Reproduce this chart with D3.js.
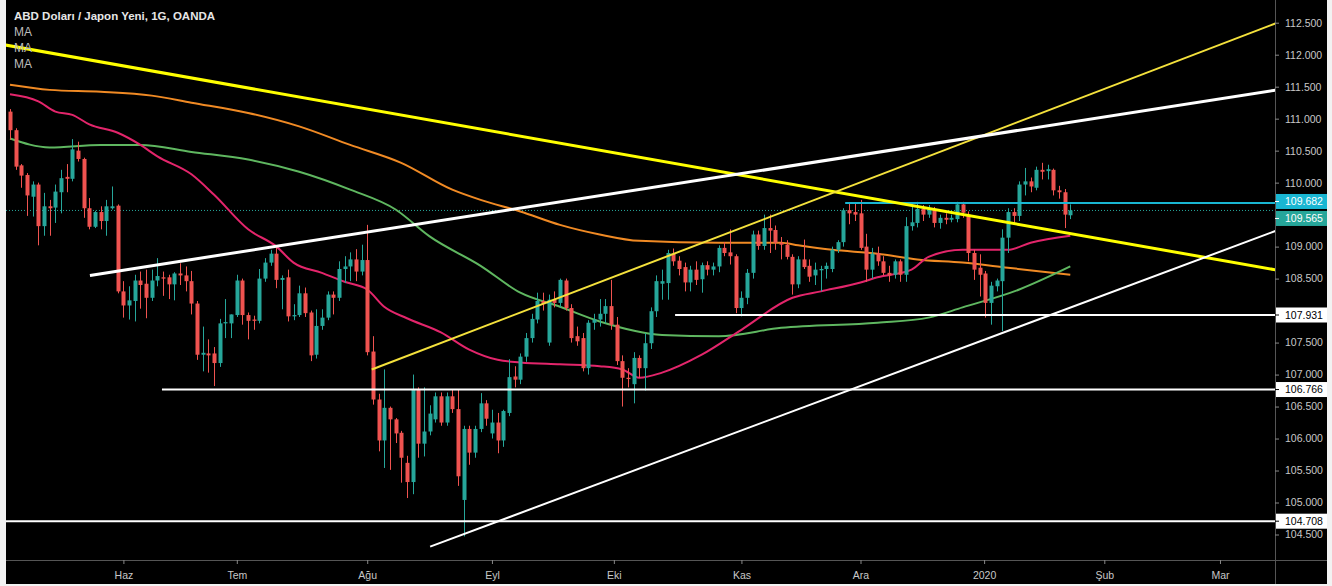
<!DOCTYPE html>
<html><head><meta charset="utf-8">
<script src="https://cdn.jsdelivr.net/npm/d3@7"></script>
<style>
html,body{margin:0;padding:0;background:#f2f2f2;overflow:hidden;}
svg{display:block;}
text{font-family:"Liberation Sans",Arial,sans-serif;}
</style></head><body>
<svg id="c" width="1332" height="586"></svg>
<script>
// ---- DATA (daily bars, index 0 = first bar) ----
const opens=[111.11,110.82,110.27,110.12,109.78,109.97,109.32,109.63,109.61,109.85,110.09,110.06,110.50,110.37,109.60,109.31,109.54,109.40,109.60,109.64,
108.30,108.08,108.15,108.47,108.42,108.20,108.47,108.52,108.52,108.41,108.58,108.55,108.46,108.11,107.31,107.33,107.33,107.18,107.80,107.80,
107.93,108.47,107.93,107.86,107.84,108.50,108.75,108.89,108.48,108.52,107.91,107.93,108.27,107.97,107.31,107.76,107.89,108.25,108.20,108.65,
108.69,108.80,108.61,108.79,107.36,106.61,105.97,106.48,106.30,106.09,105.62,105.32,106.77,105.92,106.11,106.30,106.66,106.25,106.66,106.46,
105.04,106.15,105.78,106.15,106.55,106.08,106.25,105.97,106.40,106.97,106.92,107.28,107.57,107.86,108.15,107.50,108.17,108.12,108.47,108.04,
107.60,107.57,107.10,107.81,107.86,107.95,108.07,107.78,107.21,106.95,106.85,107.26,107.10,107.49,107.99,108.42,108.43,108.89,108.78,108.68,
108.44,108.64,108.49,108.71,108.64,108.69,108.98,108.91,108.85,108.04,108.20,108.59,109.19,109.01,109.29,109.26,109.06,109.03,108.84,108.41,
108.80,108.70,108.55,108.63,108.65,108.65,108.95,109.07,109.57,109.54,109.52,109.00,108.64,108.90,108.77,108.59,108.56,108.77,108.56,109.32,
109.37,109.59,109.50,109.59,109.37,109.45,109.42,109.43,109.66,109.50,108.90,108.67,108.58,108.12,108.38,108.46,109.14,109.54,109.48,109.97,
110.02,109.92,110.20,110.18,110.20,109.88,109.85,109.49];
const highs=[111.15,110.85,110.29,110.15,110.02,110.00,109.84,109.73,109.97,110.20,110.29,110.68,110.64,110.39,109.76,109.56,109.63,109.73,109.94,109.66,
108.46,108.38,108.56,108.61,108.64,108.64,108.82,108.61,108.56,108.60,108.74,108.69,108.62,108.15,107.75,107.55,107.43,107.87,108.18,107.94,
108.56,108.50,107.97,107.92,108.65,108.82,108.95,108.99,108.55,108.64,108.10,108.39,108.36,108.00,108.02,108.02,108.30,108.30,108.77,108.85,
108.91,108.96,109.03,109.34,107.60,106.70,107.08,106.50,106.32,106.12,105.73,107.00,106.80,106.80,106.52,106.72,106.72,106.72,106.76,106.76,
106.20,106.20,106.20,106.71,106.60,106.45,106.40,106.45,107.24,107.13,107.33,107.65,107.95,108.28,108.28,108.25,108.30,108.50,108.50,108.10,
107.75,107.65,107.85,107.95,108.18,108.18,108.48,107.90,107.30,107.10,107.35,107.30,107.65,108.05,108.55,108.64,108.95,108.97,108.85,108.75,
108.70,108.77,108.75,108.77,108.75,109.02,109.07,109.27,108.88,108.30,108.65,109.25,109.25,109.50,109.50,109.33,109.15,109.10,108.88,108.85,
109.11,108.80,108.75,108.70,108.75,109.00,109.10,109.60,109.68,109.68,109.73,109.20,108.98,109.00,108.85,108.70,108.80,108.80,109.46,109.66,
109.70,109.65,109.65,109.62,109.50,109.52,109.50,109.70,109.70,109.55,108.95,108.88,108.62,108.45,108.50,109.27,109.60,109.60,110.02,110.23,
110.08,110.25,110.31,110.28,110.22,109.95,109.90,109.66];
const lows=[110.67,110.20,109.92,109.48,109.47,109.02,109.17,109.17,109.37,109.52,109.85,110.02,110.33,109.45,109.27,109.29,109.27,109.17,109.58,108.27,
107.89,107.86,107.83,108.03,107.88,108.15,108.38,108.23,108.18,108.16,108.40,108.30,107.94,107.23,107.05,107.03,106.82,107.12,107.57,107.57,
107.90,107.78,107.55,107.70,107.80,108.45,108.70,108.35,108.02,107.83,107.85,107.90,107.90,107.21,107.25,107.70,107.85,107.94,108.15,108.43,
108.46,108.46,108.55,107.30,106.53,105.80,105.54,105.51,105.93,105.31,105.07,105.13,105.70,105.72,106.05,106.25,106.20,106.20,106.40,105.26,
104.47,105.59,105.70,106.10,106.20,106.00,105.77,105.87,106.35,106.80,106.85,107.20,107.50,107.80,108.00,107.45,108.05,108.05,108.00,107.50,
107.45,107.05,107.00,107.70,107.75,107.80,107.70,107.15,106.50,106.80,106.55,106.95,106.75,107.40,107.90,108.17,108.17,108.70,108.55,108.30,
108.30,108.40,108.28,108.55,108.55,108.60,108.85,108.72,107.96,107.91,108.10,108.50,108.95,108.95,108.90,108.95,108.80,108.80,108.25,108.35,
108.65,108.45,108.40,108.30,108.50,108.60,108.90,109.00,109.35,109.40,108.95,108.45,108.50,108.70,108.55,108.45,108.50,108.45,108.45,109.25,
109.30,109.40,109.45,109.30,109.28,109.35,109.38,109.38,109.45,108.77,108.48,108.22,107.89,107.78,108.30,107.68,108.90,109.35,109.40,109.80,
109.85,109.88,110.05,110.05,109.80,109.75,109.29,109.43];
const closes=[110.82,110.25,110.11,109.80,109.97,109.32,109.63,109.60,109.86,110.07,110.06,110.52,110.37,109.60,109.31,109.54,109.40,109.63,109.63,108.30,
108.08,108.16,108.47,108.40,108.20,108.47,108.54,108.50,108.41,108.58,108.55,108.46,108.11,107.31,107.34,107.30,107.18,107.80,107.82,107.94,
108.47,107.93,107.84,107.84,108.50,108.75,108.89,108.48,108.51,107.91,107.93,108.27,107.96,107.30,107.76,107.89,108.25,108.20,108.65,108.69,
108.80,108.61,108.79,107.35,106.61,105.97,106.48,106.30,106.08,105.70,105.32,106.77,105.92,106.11,106.39,106.66,106.25,106.66,106.46,105.41,
106.15,105.78,106.15,106.55,106.31,106.25,105.97,106.43,106.96,106.92,107.28,107.57,107.87,108.15,108.10,108.17,108.12,108.48,108.04,107.57,
107.52,107.10,107.81,107.86,107.95,108.07,107.78,107.21,106.95,106.93,107.26,107.10,107.49,107.99,108.46,108.46,108.90,108.77,108.65,108.44,
108.64,108.48,108.71,108.64,108.69,108.98,108.90,108.85,108.04,108.20,108.59,109.19,109.01,109.29,109.25,109.06,109.03,108.84,108.41,108.80,
108.68,108.53,108.64,108.65,108.70,108.95,109.07,109.57,109.52,109.50,108.98,108.64,108.89,108.77,108.59,108.55,108.77,108.56,109.32,109.38,
109.59,109.50,109.59,109.37,109.45,109.42,109.45,109.66,109.53,108.90,108.64,108.56,108.12,108.39,108.47,109.14,109.54,109.48,109.97,110.02,
109.94,110.20,110.17,110.21,109.88,109.85,109.50,109.565];

// moving averages (bar index, value)
const ma50Idx=[0,5,8,11,14,19,23,26,32,36,42,47,50,55,59,63,66,70,76,81,86,90,97,104,108,111,115,122,129,138,143,150,153,159,162,168,176,180,187];
const ma50Val=[111.38,111.27,111.11,111.06,110.91,110.78,110.59,110.41,110.13,109.81,109.27,109.00,108.75,108.59,108.45,108.33,108.06,107.88,107.66,107.39,107.23,107.19,107.16,107.13,107.08,106.95,107.03,107.31,107.70,108.20,108.30,108.44,108.52,108.64,108.84,108.95,108.95,109.06,109.17];
const ma100Idx=[0,7,16,23,32,42,51,60,68,74,83,90,97,104,115,125,136,153,162,168,178,187];
const ma100Val=[110.69,110.55,110.59,110.59,110.48,110.36,110.17,109.89,109.58,109.16,108.70,108.28,108.06,107.83,107.62,107.60,107.73,107.81,107.89,108.05,108.33,108.69];
const ma200Idx=[0,7,16,25,32,42,51,60,69,78,83,90,97,104,111,125,136,139,145,153,160,168,176,187];
const ma200Val=[111.53,111.45,111.42,111.36,111.25,111.09,110.88,110.59,110.31,109.89,109.73,109.55,109.34,109.19,109.09,109.06,109.06,109.02,108.95,108.89,108.80,108.75,108.67,108.56];

// drawn levels and trend lines ([bar index, price] end points)
const levelPrices=[107.931,106.766,104.708];
const levelStart=[117.3,26.8,-2];
const resistPrice=109.682, resistStart=147.3;
const lastPrice=109.565;
const trendThickYellow=[[-2,112.17],[230,108.53]];
const trendThinYellow=[[63.8,107.08],[230,112.72]];
const trendWhiteUpper=[[14.1,108.55],[230,111.54]];
const trendWhiteLower=[[74.1,104.31],[230,109.47]];

const priceTicks=[104.5,105,105.5,106,106.5,107,107.5,108.5,109,110,110.5,111,111.5,112,112.5];
const monthIdx=[20,40,63,85,106.5,129,150,171.8,193,213.4];
const monthLabels=["Haz","Tem","Ağu","Eyl","Eki","Kas","Ara","2020","Şub","Mar"];
const title="ABD Doları / Japon Yeni, 1G, OANDA";
const legendItems=["MA","MA","MA"];

// ---- LAYOUT ----
const svg=d3.select('#c');
const PL=6,PR=1275,PT=0,PB=560,AXR=1327,AXB=584;
const UP="#26a69a",DN="#ef5350";
svg.append('rect').attr('x',PL).attr('y',0).attr('width',AXR-PL).attr('height',AXB).attr('fill','#000');

const x=d3.scaleLinear().domain([0,223]).range([10,10+223*5.67]);
const y=d3.scaleLinear().domain([104.5,112.5]).range([534.5,22.7]);

svg.append('clipPath').attr('id','pc').append('rect').attr('x',PL).attr('y',PT).attr('width',PR-PL).attr('height',PB-PT);
const g=svg.append('g').attr('clip-path','url(#pc)');

// last price dotted line
g.append('line').attr('x1',PL).attr('x2',PR).attr('y1',y(lastPrice)).attr('y2',y(lastPrice))
 .attr('stroke',UP).attr('stroke-width',1).attr('stroke-dasharray','1,2');

// MAs
const ln=d3.line().x(d=>x(d[0])).y(d=>y(d[1])).curve(d3.curveMonotoneX);
[[ma200Idx,ma200Val,"#f08a24"],[ma100Idx,ma100Val,"#5fb760"],[ma50Idx,ma50Val,"#e3256b"]].forEach(([ix,v,c])=>{
  g.append('path').attr('d',ln(ix.map((k,j)=>[k,v[j]]))).attr('fill','none').attr('stroke',c).attr('stroke-width',2);
});

// candles
const bars=opens.map((o,i)=>({i,o,h:highs[i],l:lows[i],c:closes[i]}));
const cx=d=>Math.round(x(d.i));
g.selectAll('line.w').data(bars).join('line').attr('class','w')
 .attr('x1',d=>cx(d)+0.5).attr('x2',d=>cx(d)+0.5).attr('y1',d=>y(d.h)).attr('y2',d=>y(d.l))
 .attr('stroke',d=>d.c>=d.o?UP:DN).attr('stroke-width',1);
g.selectAll('rect.b').data(bars).join('rect').attr('class','b')
 .attr('x',d=>cx(d)-1.5).attr('width',4)
 .attr('y',d=>y(Math.max(d.o,d.c))).attr('height',d=>Math.max(1,Math.abs(y(d.o)-y(d.c))))
 .attr('fill',d=>d.c>=d.o?UP:DN);

// levels
levelPrices.forEach((p,k)=>{
  g.append('line').attr('x1',x(levelStart[k])).attr('x2',PR).attr('y1',y(p)).attr('y2',y(p)).attr('stroke','#fff').attr('stroke-width',2);
});
g.append('line').attr('x1',x(resistStart)).attr('x2',PR).attr('y1',y(resistPrice)).attr('y2',y(resistPrice)).attr('stroke','#19b6d2').attr('stroke-width',2);

const tl=d3.line().x(d=>x(d[0])).y(d=>y(d[1]));
[[trendThickYellow,"#ffff00",3],[trendThinYellow,"#f4e13c",2],[trendWhiteUpper,"#ffffff",3],[trendWhiteLower,"#ffffff",2]].forEach(([pts,c,w])=>{
  g.append('path').attr('d',tl(pts)).attr('stroke',c).attr('stroke-width',w).attr('fill','none');
});

// separators
svg.append('line').attr('x1',PR+0.5).attr('x2',PR+0.5).attr('y1',0).attr('y2',AXB).attr('stroke','#555');
svg.append('line').attr('x1',PL).attr('x2',AXR).attr('y1',PB+0.5).attr('y2',PB+0.5).attr('stroke','#555');

// right axis
const ax=svg.append('g').attr('transform',`translate(${PR},0)`)
 .call(d3.axisRight(y).tickValues(priceTicks).tickFormat(d3.format('.3f')).tickSize(4).tickPadding(6));
ax.select('.domain').remove();
ax.selectAll('line').attr('stroke','#888');
ax.selectAll('text').attr('fill','#c8c8c8').style('font-size','10.5px');

function tag(p,bg,fg,dy){
  const yy=y(p)+(dy||0);
  svg.append('rect').attr('x',PR+1).attr('y',yy-7.5).attr('width',AXR-PR-1).attr('height',15).attr('fill',bg);
  svg.append('line').attr('x1',PR).attr('x2',PR+4).attr('y1',yy).attr('y2',yy).attr('stroke',fg);
  svg.append('text').attr('x',PR+10).attr('y',yy).attr('dy','0.35em').attr('fill',fg).style('font-size','10.5px').text(d3.format('.3f')(p));
}
levelPrices.forEach(p=>tag(p,'#ffffff','#000'));
tag(resistPrice,'#19b6d2','#fff',-1.5);
tag(lastPrice,'#26a69a','#fff',8);

// bottom axis
const bx=svg.append('g').attr('transform',`translate(0,${PB})`)
 .call(d3.axisBottom(x).tickValues(monthIdx).tickFormat((d,k)=>monthLabels[k]).tickSize(4).tickPadding(8));
bx.select('.domain').remove();
bx.selectAll('line').attr('stroke','#888');
bx.selectAll('text').attr('fill','#c8c8c8').style('font-size','10.5px');

// legend
svg.append('text').attr('x',14).attr('y',20).attr('fill','#e6e6e6').style('font-size','11.5px').style('font-weight','bold').text(title);
legendItems.forEach((t,k)=>svg.append('text').attr('x',14).attr('y',36+k*16).attr('fill','#bdbdbd').style('font-size','12px').text(t));
</script>
</body></html>
